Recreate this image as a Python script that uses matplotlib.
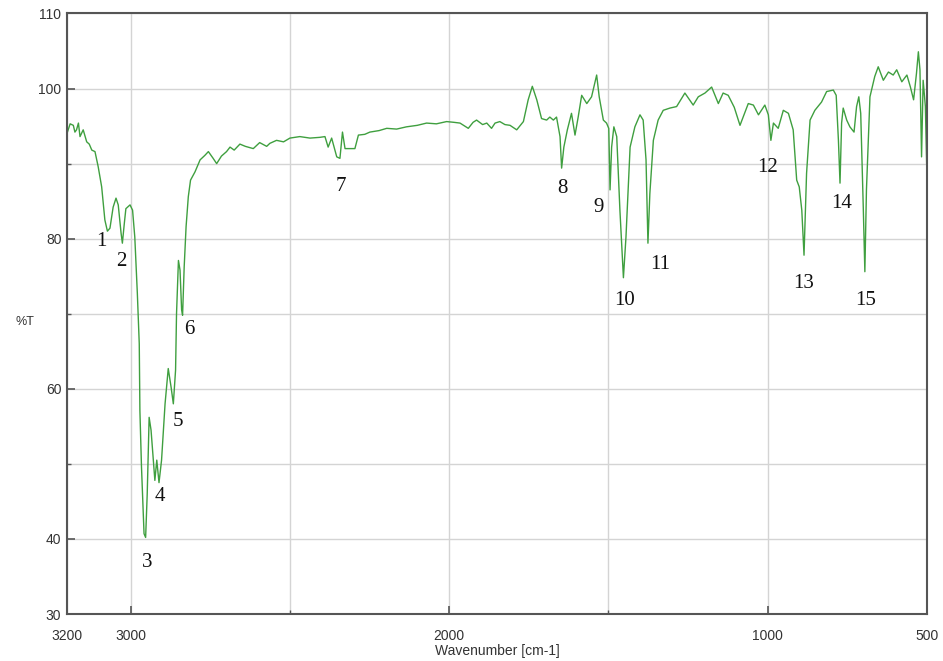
import matplotlib; matplotlib.use("Agg")
import matplotlib.pyplot as plt

# IR spectrum (wavenumber in cm-1, transmittance in %T)
wavenumber = [
    3200, 3190, 3180, 3175, 3170, 3164, 3159, 3149, 3138, 3130, 3122, 3112, 3102, 3091, 3081,
    3073, 3065, 3055, 3046, 3039, 3030, 3026, 3020, 3015, 3002, 2994, 2987, 2979, 2973, 2971,
    2966, 2958, 2953, 2948, 2942, 2936, 2929, 2924, 2918, 2911, 2903, 2892, 2882, 2873, 2866,
    2859, 2856, 2850, 2845, 2840, 2837, 2832, 2826, 2819, 2812, 2798, 2782, 2767, 2756, 2741,
    2730, 2715, 2699, 2688, 2675, 2657, 2640, 2615, 2595, 2573, 2563, 2542, 2520, 2500, 2469,
    2437, 2406, 2390, 2380, 2369, 2360, 2353, 2343, 2335, 2327, 2312, 2296, 2285, 2265, 2249,
    2220, 2196, 2165, 2134, 2100, 2071, 2040, 2008, 1985, 1966, 1940, 1925, 1914, 1895, 1882,
    1867, 1856, 1841, 1825, 1809, 1788, 1767, 1752, 1739, 1725, 1710, 1694, 1684, 1673, 1663,
    1652, 1647, 1640, 1629, 1616, 1605, 1595, 1584, 1568, 1553, 1537, 1529, 1516, 1506, 1499,
    1495, 1490, 1483, 1474, 1464, 1453, 1445, 1432, 1417, 1401, 1391, 1382, 1376, 1370, 1359,
    1344, 1328, 1307, 1286, 1260, 1234, 1218, 1197, 1176, 1155, 1140, 1124, 1105, 1087, 1061,
    1045, 1029, 1009, 998, 990, 982, 967, 951, 935, 920, 909, 901, 893, 886, 878,
    867, 852, 831, 815, 794, 785, 778, 773, 768, 763, 752, 742, 729, 721, 714,
    708, 700, 695, 690, 679, 664, 653, 637, 621, 606, 595, 579, 563, 552, 542,
    533, 527, 522, 517, 512, 505, 501,
]
transmittance = [
    94.0, 95.3, 95.1, 94.2, 94.5, 95.4, 93.6, 94.5, 92.9, 92.6, 91.8, 91.6, 89.6, 86.9, 82.5,
    81.0, 81.4, 84.2, 85.4, 84.5, 80.7, 79.4, 82.0, 84.0, 84.5, 83.8, 80.2, 72.7, 66.0, 57.1,
    49.6, 40.7, 40.2, 46.0, 56.2, 54.5, 50.5, 47.8, 50.5, 47.5, 50.5, 58.0, 62.7, 60.2, 58.0,
    62.5, 70.0, 77.1, 75.8, 70.5, 69.8, 76.2, 81.6, 85.6, 87.8, 88.9, 90.5, 91.1, 91.6, 90.7,
    90.0, 91.0, 91.6, 92.2, 91.8, 92.6, 92.3, 92.0, 92.8, 92.3, 92.7, 93.1, 92.9, 93.4, 93.6,
    93.4, 93.5, 93.6, 92.2, 93.4, 92.0, 90.9, 90.7, 94.2, 92.0, 92.0, 92.0, 93.8, 93.9, 94.2,
    94.4, 94.7, 94.6, 94.9, 95.1, 95.4, 95.3, 95.6, 95.5, 95.4, 94.7, 95.5, 95.8, 95.2, 95.4,
    94.7, 95.4, 95.6, 95.2, 95.1, 94.5, 95.6, 98.5, 100.3, 98.5, 96.0, 95.8, 96.2, 95.8, 96.2,
    93.6, 89.4, 92.2, 94.5, 96.7, 93.8, 96.2, 99.1, 98.0, 98.9, 101.8, 98.9, 95.8, 95.4, 94.7,
    86.5, 92.2, 94.9, 93.6, 83.8, 74.8, 80.2, 92.2, 94.9, 96.5, 95.8, 90.5, 79.4, 86.0, 93.1,
    95.8, 97.1, 97.4, 97.6, 99.4, 97.8, 98.9, 99.4, 100.2, 98.0, 99.4, 99.1, 97.5, 95.1, 98.0,
    97.8, 96.5, 97.8, 96.5, 93.1, 95.4, 94.7, 97.1, 96.7, 94.5, 87.8, 86.9, 83.8, 77.8, 88.7,
    95.8, 97.1, 98.2, 99.6, 99.8, 99.1, 93.1, 87.4, 95.4, 97.4, 95.8, 94.9, 94.2, 97.6, 98.9,
    96.7, 84.2, 75.6, 86.5, 98.9, 101.6, 102.9, 101.1, 102.2, 101.8, 102.5, 100.9, 101.8, 100.2, 98.5,
    102.0, 104.9, 102.5, 90.9, 101.1, 97.6, 90.0,
]

# Band numbers and where they are written
band_labels = ['1', '2', '3', '4', '5', '6', '7', '8', '9', '10', '11', '12', '13', '14', '15']
label_wavenumber = [3093, 3030, 2949, 2908, 2852, 2817, 2340, 1646, 1530, 1451, 1338, 999, 886, 767, 692]
label_transmittance = [79.6, 77.0, 36.9, 45.7, 55.7, 67.9, 87.0, 86.7, 84.1, 71.7, 76.5, 89.5, 74.0, 84.7, 71.7]

x_major = [3200, 3000, 2000, 1000, 500]
x_minor = [2500, 1500]
y_major = [30, 40, 60, 80, 100, 110]
y_minor = [50, 70, 90]

fig = plt.figure(figsize=(9.43, 6.61), dpi=100)
ax = fig.add_axes([0.071, 0.0711, 0.912, 0.9085])

ax.plot(wavenumber, transmittance, color='#3f9f3f', lw=1.0)

ax.set_xlim(3200, 500)
ax.set_ylim(30, 110)

# Grid every 500 cm-1 and every 10 %T, labels only on some of them
ax.set_xticks(x_major)
ax.set_xticks(x_minor, minor=True)
ax.set_yticks(y_major)
ax.set_yticks(y_minor, minor=True)
ax.grid(True, which='both', color='#d4d4d4', lw=1.0)
ax.set_axisbelow(True)

ax.tick_params(which='major', direction='in', length=6, width=1.2, color='#555555',
               labelsize=10, labelcolor='#333333', pad=4)
ax.tick_params(axis='x', which='major', pad=11)
ax.tick_params(which='minor', direction='in', length=3, width=1.0, color='#555555')
for spine in ax.spines.values():
    spine.set_color('#555555')
    spine.set_linewidth(1.5)

for lab in ax.get_xticklabels() + ax.get_yticklabels():
    lab.set_family('Liberation Sans')

for lab, wx, ty in zip(band_labels, label_wavenumber, label_transmittance):
    ax.text(wx, ty, lab, ha='center', va='center', fontsize=15,
            family='Liberation Serif', color='#111111')

fig.text(25 / 943, 1 - 322 / 661, '%T', ha='center', va='center', fontsize=9,
         family='Liberation Sans', color='#333333')
fig.text(497 / 943, 1 - 651 / 661, 'Wavenumber [cm-1]', ha='center', va='center', fontsize=10,
         family='Liberation Sans', color='#333333')

fig.savefig('out.png', dpi=100)
